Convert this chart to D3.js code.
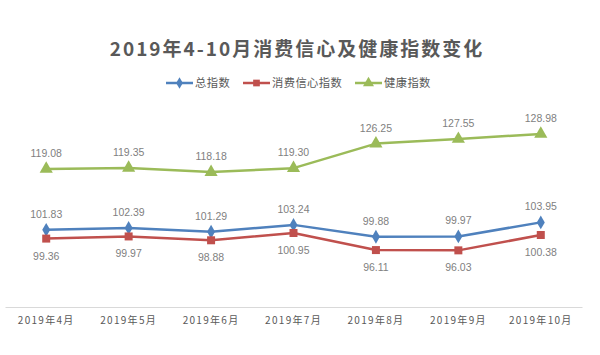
<!DOCTYPE html>
<html>
<head>
<meta charset="utf-8">
<script src="https://cdn.jsdelivr.net/npm/d3@7"></script>
<style>
  html, body { margin: 0; padding: 0; background: #fff; }
  svg { display: block; }
</style>
</head>
<body>
<svg id="chart" width="600" height="355"></svg>
<script>
const categories = ["2019年4月", "2019年5月", "2019年6月", "2019年7月", "2019年8月", "2019年9月", "2019年10月"];
const seriesNames = ["总指数", "消费信心指数", "健康指数"];
const totalIndex = [101.83, 102.39, 101.29, 103.24, 99.88, 99.97, 103.95];
const confidenceIndex = [99.36, 99.97, 98.88, 100.95, 96.11, 96.03, 100.38];
const healthIndex = [119.08, 119.35, 118.18, 119.30, 126.25, 127.55, 128.98];
const titleText = "2019年4-10月消费信心及健康指数变化";

const colors = ["#4F81BD", "#C0504D", "#9BBB59"];
const symbols = [d3.symbolDiamond, d3.symbolSquare, d3.symbolTriangle];
const symbolSizes = [55, 64, 75];
const labelPos = ["above", "below", "above"];
const series = [totalIndex, confidenceIndex, healthIndex].map((v, i) => ({
  name: seriesNames[i], values: v, color: colors[i], symbol: symbols[i], size: symbolSizes[i], pos: labelPos[i]
}));

const svg = d3.select("#chart");
const font = "'Noto Sans CJK SC', 'Noto Sans', sans-serif";

const x = d3.scaleBand().domain(categories).range([5, 582]);
const y = d3.scaleLinear().domain([80, 140]).range([307, 95]);

// title
svg.append("text")
  .attr("x", 297).attr("y", 56)
  .attr("text-anchor", "middle")
  .attr("font-family", font)
  .attr("font-size", 19).attr("font-weight", "bold")
  .attr("letter-spacing", 2)
  .attr("fill", "#595959")
  .text(titleText);

// legend
const legendX = [166, 243, 355];
const lg = svg.append("g");
series.forEach((s, i) => {
  const g = lg.append("g").attr("transform", `translate(${legendX[i]},83)`);
  g.append("line").attr("x1", 0).attr("x2", 27).attr("y1", 0).attr("y2", 0)
    .attr("stroke", s.color).attr("stroke-width", 2.5);
  g.append("path").attr("d", d3.symbol().type(s.symbol).size(s.size * 0.7)())
    .attr("transform", "translate(13.5,0)").attr("fill", s.color);
  g.append("text").attr("x", 29).attr("y", 4)
    .attr("font-family", font).attr("font-size", 11.3)
    .attr("letter-spacing", 0.4)
    .attr("fill", "#595959").text(s.name);
});

// x axis
const xAxis = d3.axisBottom(x).tickSize(0).tickPadding(10);
const ax = svg.append("g").attr("transform", "translate(0,307)").call(xAxis);
ax.select(".domain").attr("stroke", "#d9d9d9").attr("stroke-width", 1);
ax.selectAll("text")
  .attr("font-family", font).attr("font-size", 10)
  .attr("letter-spacing", 1.3)
  .attr("fill", "#595959");

const cx = d => x(d) + x.bandwidth() / 2;
const line = d3.line().x((d, i) => cx(categories[i])).y(d => y(d));

series.forEach(s => {
  const g = svg.append("g");
  g.append("path").datum(s.values)
    .attr("d", line).attr("fill", "none")
    .attr("stroke", s.color).attr("stroke-width", 2.5)
    .attr("stroke-linejoin", "round");
  g.selectAll("path.m").data(s.values).join("path").attr("class", "m")
    .attr("d", d3.symbol().type(s.symbol).size(s.size)())
    .attr("transform", (d, i) => `translate(${cx(categories[i])},${y(d)})`)
    .attr("fill", s.color);
  g.selectAll("text").data(s.values).join("text")
    .attr("x", (d, i) => cx(categories[i]))
    .attr("y", d => s.pos === "above" ? y(d) - 12 : y(d) + 21)
    .attr("text-anchor", "middle")
    .attr("font-family", "'Liberation Sans', Arial, sans-serif")
    .attr("font-size", 10.5)
    .attr("fill", "#7f7f7f")
    .text(d => d.toFixed(2));
});
</script>
</body>
</html>
